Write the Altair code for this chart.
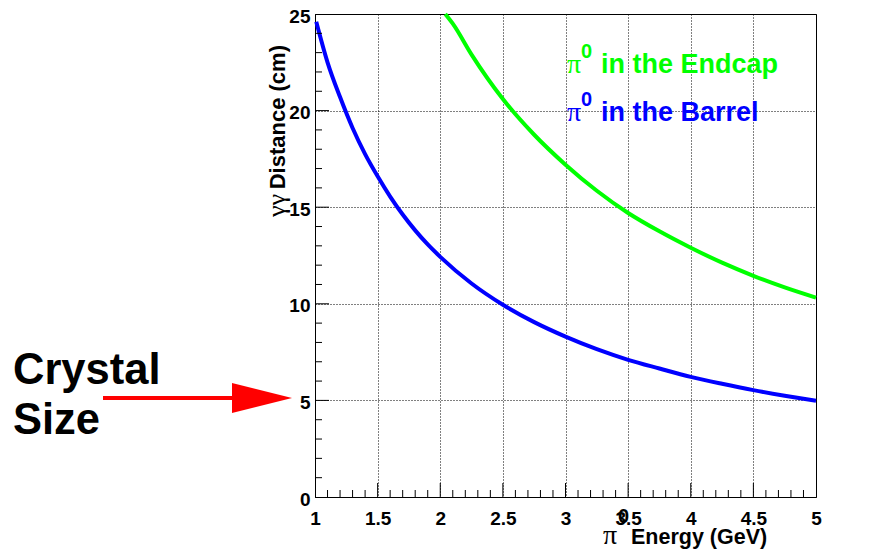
import altair as alt
import pandas as pd

# ---- data ----
barrel_E = [1.01, 1.1, 1.2, 1.3, 1.4, 1.5, 1.6, 1.7, 1.8, 1.9, 2.0, 2.25, 2.5, 2.75,
            3.0, 3.25, 3.5, 3.75, 4.0, 4.25, 4.5, 4.75, 5.0]
barrel_d = [24.6, 22.5, 20.7, 19.1, 17.75, 16.6, 15.55, 14.62, 13.8, 13.07, 12.43, 11.05, 9.95, 9.05,
            8.3, 7.65, 7.1, 6.65, 6.22, 5.86, 5.53, 5.24, 4.98]
endcap_E = [2.04, 2.1, 2.25, 2.5, 2.75, 3.0, 3.25, 3.5, 3.75, 4.0, 4.25, 4.5, 4.75, 5.0]
endcap_d = [25.0, 24.5, 22.9, 20.6, 18.75, 17.2, 15.85, 14.7, 13.75, 12.9, 12.13, 11.45, 10.85, 10.32]

x_ticks = [1, 1.5, 2, 2.5, 3, 3.5, 4, 4.5, 5]
y_ticks = [0, 5, 10, 15, 20, 25]
x_minor = [round(1 + 0.1 * i, 1) for i in range(1, 40) if i % 5]
x_major = [1.5, 2, 2.5, 3, 3.5, 4, 4.5]
y_minor = [v for v in range(1, 25) if v % 5]
y_major = [5, 10, 15, 20]

series_names = ["Barrel", "Endcap"]
series_colors = ["#0000ff", "#00ff00"]

curves = pd.DataFrame({
    "E": barrel_E + endcap_E,
    "d": barrel_d + endcap_d,
    "series": ["Barrel"] * len(barrel_E) + ["Endcap"] * len(endcap_E),
})

W, H = 501, 483
SANS = "Liberation Sans"
SERIF = "Liberation Serif"

xscale = alt.Scale(domain=[1, 5], nice=False, zero=False)
yscale = alt.Scale(domain=[0, 25], nice=False, zero=False)

common_axis = dict(
    title=None, grid=True, gridDash=[1, 2], gridColor="black", gridOpacity=1,
    gridWidth=1, tickSize=0, labelFont=SANS, labelFontSize=19, labelFontWeight="bold",
    labelColor="black", domainColor="black", domainWidth=1, labelFlush=False,
    labelOverlap=False, format="~g",
)
xaxis = alt.Axis(values=x_ticks, labelPadding=12, **common_axis)
yaxis = alt.Axis(values=y_ticks, labelPadding=5, labelOffset=2, **common_axis)

lines = alt.Chart(curves).mark_line(strokeWidth=4, strokeCap="butt", interpolate="monotone").encode(
    x=alt.X("E:Q", scale=xscale, axis=xaxis),
    y=alt.Y("d:Q", scale=yscale, axis=yaxis),
    color=alt.Color("series:N", scale=alt.Scale(domain=series_names, range=series_colors), legend=None),
)

# inside-pointing ticks
xminor_rules = alt.Chart(pd.DataFrame({"E": x_minor})).mark_rule(color="black", strokeWidth=1).encode(
    x=alt.X("E:Q", scale=xscale, axis=xaxis), y=alt.value(H), y2=alt.value(H - 7))
xmajor_rules = alt.Chart(pd.DataFrame({"E": x_major})).mark_rule(color="black", strokeWidth=1).encode(
    x=alt.X("E:Q", scale=xscale, axis=xaxis), y=alt.value(H), y2=alt.value(H - 14))
yminor_rules = alt.Chart(pd.DataFrame({"d": y_minor})).mark_rule(color="black", strokeWidth=1).encode(
    y=alt.Y("d:Q", scale=yscale, axis=yaxis), x=alt.value(0), x2=alt.value(7))
ymajor_rules = alt.Chart(pd.DataFrame({"d": y_major})).mark_rule(color="black", strokeWidth=1).encode(
    y=alt.Y("d:Q", scale=yscale, axis=yaxis), x=alt.value(0), x2=alt.value(14))

one = pd.DataFrame({"a": [0]})


def label(text, x, y, size, font=SANS, weight="bold", color="black", align="left", angle=0):
    return alt.Chart(one).mark_text(
        text=text, font=font, fontSize=size, fontWeight=weight, color=color,
        align=align, baseline="alphabetic", angle=angle,
    ).encode(x=alt.value(x), y=alt.value(y))


texts = [
    # y title
    label("Distance (cm)", -30, 31, 22, align="right", angle=270),
    label("γγ", -30, 180, 26, font=SERIF, weight="normal", align="right", angle=270),
    # x title
    label("π", 288, 530, 28, font=SERIF, weight="normal"),
    label("0", 303, 509, 20),
    label("Energy (GeV)", 316, 530, 21.5),
    # legend texts
    label("π", 252, 59, 28, font=SERIF, weight="normal", color="#00ff00"),
    label("0", 266, 44, 20, color="#00ff00"),
    label("in the Endcap", 286, 59, 27, color="#00ff00"),
    label("π", 252, 107, 28, font=SERIF, weight="normal", color="#0000ff"),
    label("0", 266, 92, 20, color="#0000ff"),
    label("in the Barrel", 286, 107, 27, color="#0000ff"),
    # annotation
    label("Crystal", -302, 370, 43.5),
    label("Size", -302, 420, 43.5),
]

arrow_shaft = alt.Chart(one).mark_rule(color="#ff0000", strokeWidth=4).encode(
    x=alt.value(-212), x2=alt.value(-80), y=alt.value(384))
arrow_head = alt.Chart(one).mark_point(
    shape="M-1,-0.5L1,0L-1,0.5Z", size=3600, filled=True, color="#ff0000", opacity=1, strokeWidth=0
).encode(x=alt.value(-53), y=alt.value(384))

chart = alt.layer(
    lines, xminor_rules, xmajor_rules, yminor_rules, ymajor_rules,
    arrow_shaft, arrow_head, *texts
).properties(
    width=W, height=H,
    autosize=alt.AutoSizeParams(type="none"),
    padding={"left": 307, "top": 6, "right": 40, "bottom": 55},
    background="white",
).configure_view(stroke="black", strokeWidth=1)

chart.save("out.html", embed_options={"renderer": "svg", "actions": False})
